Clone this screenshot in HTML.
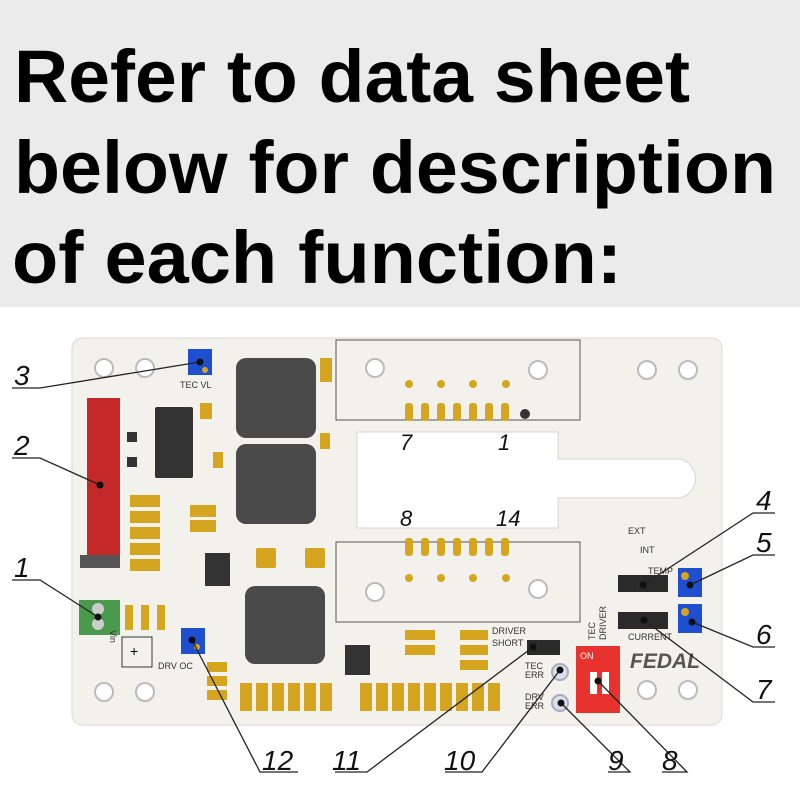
<!DOCTYPE html>
<html><head><meta charset="utf-8"><style>
html,body{margin:0;padding:0;background:#fff}
svg{display:block}
</style></head><body>
<svg width="800" height="800" viewBox="0 0 800 800" xmlns="http://www.w3.org/2000/svg" font-family="Liberation Sans, sans-serif">
<rect x="0" y="0" width="800" height="307" fill="#ebebeb"/>
<g font-size="74" font-weight="bold" fill="#000">
<text x="14" y="102" textLength="676" lengthAdjust="spacingAndGlyphs">Refer to data sheet</text>
<text x="14" y="193" textLength="762" lengthAdjust="spacingAndGlyphs">below for description</text>
<text x="12" y="283" textLength="610" lengthAdjust="spacingAndGlyphs">of each function:</text>
</g>
<!-- board -->
<rect x="72" y="338" width="650" height="387" rx="10" fill="#f3f1ec" stroke="#dcdad4"/>
<!-- cutout -->
<path d="M357 432 H558 V459 H680 A20 20 0 0 1 680 498 H558 V528 H357 Z" fill="#fff" stroke="#d8d6d0"/>
<!-- connector outlines -->
<rect x="336" y="340" width="244" height="80" fill="none" stroke="#555" stroke-width="1"/>
<rect x="336" y="542" width="244" height="80" fill="none" stroke="#555" stroke-width="1"/>
<!-- holes -->
<g fill="#fff" stroke="#bbb" stroke-width="2">
<circle cx="104" cy="368" r="9"/><circle cx="145" cy="368" r="9"/>
<circle cx="104" cy="692" r="9"/><circle cx="145" cy="692" r="9"/>
<circle cx="375" cy="368" r="9"/><circle cx="375" cy="592" r="9"/>
<circle cx="538" cy="370" r="9"/><circle cx="647" cy="370" r="9"/><circle cx="688" cy="370" r="9"/>
<circle cx="538" cy="589" r="9"/>
<circle cx="647" cy="690" r="9"/><circle cx="688" cy="690" r="9"/>
</g>
<!-- connector pads -->
<g fill="#d6a51f">
<rect x="405" y="403" width="8" height="18" rx="3"/><rect x="421" y="403" width="8" height="18" rx="3"/><rect x="437" y="403" width="8" height="18" rx="3"/><rect x="453" y="403" width="8" height="18" rx="3"/><rect x="469" y="403" width="8" height="18" rx="3"/><rect x="485" y="403" width="8" height="18" rx="3"/><rect x="501" y="403" width="8" height="18" rx="3"/>
<circle cx="409" cy="384" r="4"/><circle cx="441" cy="384" r="4"/><circle cx="473" cy="384" r="4"/><circle cx="506" cy="384" r="4"/>
<rect x="405" y="538" width="8" height="18" rx="3"/><rect x="421" y="538" width="8" height="18" rx="3"/><rect x="437" y="538" width="8" height="18" rx="3"/><rect x="453" y="538" width="8" height="18" rx="3"/><rect x="469" y="538" width="8" height="18" rx="3"/><rect x="485" y="538" width="8" height="18" rx="3"/><rect x="501" y="538" width="8" height="18" rx="3"/>
<circle cx="409" cy="578" r="4"/><circle cx="441" cy="578" r="4"/><circle cx="473" cy="578" r="4"/><circle cx="506" cy="578" r="4"/>
</g>
<circle cx="525" cy="414" r="5" fill="#333"/>
<g font-size="22" font-style="italic" fill="#111">
<text x="400" y="450">7</text><text x="498" y="450">1</text>
<text x="400" y="526">8</text><text x="496" y="526">14</text>
</g>
<!-- red connector -->
<rect x="87" y="398" width="33" height="160" fill="#c42828"/>
<rect x="80" y="555" width="40" height="13" fill="#555"/>
<!-- green terminal -->
<rect x="79" y="600" width="41" height="35" fill="#4a9a4e"/>
<circle cx="98" cy="609" r="6" fill="#ccc"/><circle cx="98" cy="624" r="6" fill="#ccc"/>
<rect x="122" y="637" width="30" height="30" fill="none" stroke="#333"/>
<text x="130" y="656" font-size="14">+</text>
<!-- ICs -->
<rect x="155" y="407" width="38" height="71" rx="2" fill="#333"/>
<rect x="205" y="553" width="25" height="33" fill="#333"/>
<rect x="345" y="645" width="25" height="30" fill="#333"/>
<rect x="127" y="432" width="10" height="10" fill="#333"/><rect x="127" y="457" width="10" height="10" fill="#333"/>
<!-- inductors -->
<rect x="236" y="358" width="80" height="80" rx="10" fill="#4a4a4a"/>
<rect x="236" y="444" width="80" height="80" rx="10" fill="#4a4a4a"/>
<rect x="245" y="586" width="80" height="78" rx="10" fill="#4a4a4a"/>
<!-- gold components -->
<g fill="#d6a51f">
<rect x="130" y="495" width="30" height="12"/><rect x="130" y="511" width="30" height="12"/><rect x="130" y="527" width="30" height="12"/><rect x="130" y="543" width="30" height="12"/><rect x="130" y="559" width="30" height="12"/>
<rect x="125" y="605" width="8" height="25"/><rect x="141" y="605" width="8" height="25"/><rect x="157" y="605" width="8" height="25"/>
<rect x="190" y="505" width="26" height="12"/><rect x="190" y="520" width="26" height="12"/>
<rect x="200" y="403" width="12" height="16"/><rect x="213" y="452" width="10" height="16"/>
<rect x="256" y="548" width="20" height="20" rx="2"/><rect x="305" y="548" width="20" height="20" rx="2"/>
<rect x="320" y="358" width="12" height="24"/><rect x="320" y="433" width="10" height="16"/>
<rect x="207" y="662" width="20" height="10"/><rect x="207" y="676" width="20" height="10"/><rect x="207" y="690" width="20" height="10"/>
<rect x="240" y="683" width="12" height="28"/><rect x="256" y="683" width="12" height="28"/><rect x="272" y="683" width="12" height="28"/><rect x="288" y="683" width="12" height="28"/><rect x="304" y="683" width="12" height="28"/><rect x="320" y="683" width="12" height="28"/>
<rect x="360" y="683" width="12" height="28"/><rect x="376" y="683" width="12" height="28"/><rect x="392" y="683" width="12" height="28"/><rect x="408" y="683" width="12" height="28"/><rect x="424" y="683" width="12" height="28"/><rect x="440" y="683" width="12" height="28"/><rect x="456" y="683" width="12" height="28"/><rect x="472" y="683" width="12" height="28"/><rect x="488" y="683" width="12" height="28"/>
<rect x="405" y="630" width="30" height="10"/><rect x="405" y="645" width="30" height="10"/>
<rect x="460" y="630" width="28" height="10"/><rect x="460" y="645" width="28" height="10"/><rect x="460" y="660" width="28" height="10"/>
</g>
<!-- trimmers -->
<rect x="188" y="349" width="24" height="26" fill="#1f4fd0"/><circle cx="205" cy="370" r="3" fill="#d6a51f"/>
<rect x="181" y="628" width="24" height="26" fill="#1f4fd0"/><circle cx="197" cy="647" r="3" fill="#d6a51f"/>
<rect x="678" y="568" width="24" height="29" fill="#1f4fd0"/><circle cx="685" cy="576" r="4" fill="#d6a51f"/>
<rect x="678" y="604" width="24" height="29" fill="#1f4fd0"/><circle cx="685" cy="612" r="4" fill="#d6a51f"/>
<!-- jumpers -->
<rect x="618" y="575" width="50" height="17" fill="#2a2a2a"/>
<rect x="618" y="612" width="50" height="17" fill="#2a2a2a"/>
<rect x="527" y="640" width="33" height="15" fill="#2a2a2a"/>
<!-- DIP -->
<rect x="576" y="646" width="44" height="67" fill="#e8322e"/>
<rect x="590" y="672" width="7" height="22" fill="#fff"/><rect x="602" y="672" width="7" height="22" fill="#fff"/>
<text x="580" y="659" font-size="9" fill="#fff">ON</text>
<!-- LEDs -->
<circle cx="560" cy="672" r="8" fill="#dde" stroke="#aab" stroke-width="2"/>
<circle cx="560" cy="703" r="8" fill="#dde" stroke="#aab" stroke-width="2"/>
<!-- small labels -->
<g font-size="9" fill="#333">
<text x="180" y="388">TEC VL</text>
<text x="158" y="669">DRV OC</text>
<text x="492" y="634">DRIVER</text><text x="492" y="646">SHORT</text>
<text x="525" y="669">TEC</text><text x="525" y="678">ERR</text>
<text x="525" y="700">DRV</text><text x="525" y="709">ERR</text>
<text x="648" y="574">TEMP</text><text x="628" y="640">CURRENT</text>
<text x="628" y="534">EXT</text><text x="640" y="553">INT</text>
<text x="110" y="630" transform="rotate(90 110 630)">Vin</text>
<text x="595" y="640" transform="rotate(-90 595 640)">TEC</text>
<text x="606" y="640" transform="rotate(-90 606 640)">DRIVER</text>
</g>
<text x="630" y="668" font-size="21" font-weight="bold" font-style="italic" fill="#555">FEDAL</text>
<!-- callouts -->
<g stroke="#222" stroke-width="1.3" fill="none">
<path d="M12 388 H40 L200 362"/>
<path d="M12 458 H40 L100 485"/>
<path d="M12 580 H40 L98 617"/>
<path d="M298 772 H260 L192 640"/>
<path d="M335 772 H367 L533 647"/>
<path d="M445 772 H482 L560 670"/>
<path d="M608 772 H630 L561 703"/>
<path d="M662 772 H687 L598 681"/>
<path d="M775 702 H753 L644 620"/>
<path d="M775 647 H753 L692 622"/>
<path d="M775 555 H753 L690 585"/>
<path d="M775 513 H753 L643 585"/>
</g>
<g fill="#111">
<circle cx="200" cy="362" r="3.5"/><circle cx="100" cy="485" r="3.5"/><circle cx="98" cy="617" r="3.5"/>
<circle cx="192" cy="640" r="3.5"/><circle cx="533" cy="647" r="3.5"/><circle cx="560" cy="670" r="3.5"/>
<circle cx="561" cy="703" r="3.5"/><circle cx="598" cy="681" r="3.5"/><circle cx="644" cy="620" r="3.5"/>
<circle cx="692" cy="622" r="3.5"/><circle cx="690" cy="585" r="3.5"/><circle cx="643" cy="585" r="3.5"/>
</g>
<g font-size="28" font-style="italic" fill="#111">
<text x="14" y="385">3</text><text x="14" y="455">2</text><text x="14" y="577">1</text>
<text x="262" y="770">12</text><text x="332" y="770">11</text><text x="444" y="770">10</text>
<text x="608" y="770">9</text><text x="662" y="770">8</text>
<text x="756" y="699">7</text><text x="756" y="644">6</text><text x="756" y="552">5</text><text x="756" y="510">4</text>
</g>
</svg>
</body></html>
